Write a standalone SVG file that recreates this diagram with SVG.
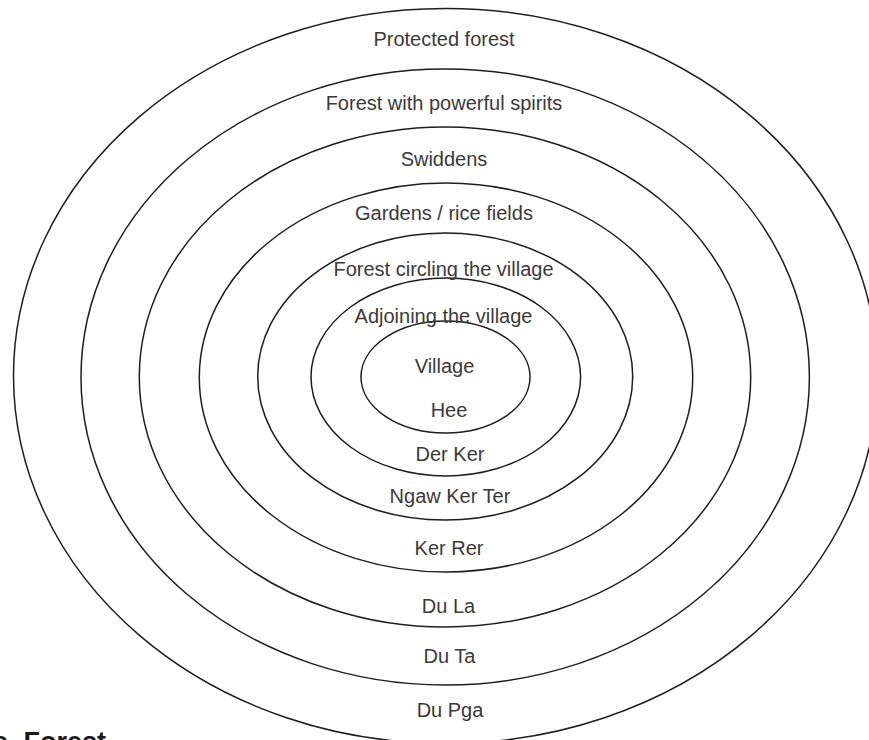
<svg xmlns="http://www.w3.org/2000/svg" width="869" height="740" viewBox="0 0 869 740">
<style>
.ring{fill:none;stroke:#1e1e1e;stroke-width:1.5}
.lbl{font-family:"Liberation Sans",Arial,sans-serif;font-size:20px;fill:#3a3a3a;text-anchor:middle}
.title{font-family:"Liberation Sans",Arial,sans-serif;font-size:27px;font-weight:bold;fill:#1a1a1a}
</style>
<rect width="869" height="740" fill="#fff"/>
<g id="rings">
<g id="ring-protected-forest"><ellipse class="ring" cx="445.5" cy="376" rx="432" ry="367.5"/></g>
<g id="ring-powerful-spirits"><ellipse class="ring" cx="445.2" cy="377" rx="364.2" ry="308"/></g>
<g id="ring-swiddens"><ellipse class="ring" cx="445" cy="377" rx="305.7" ry="250"/></g>
<g id="ring-gardens"><ellipse class="ring" cx="446" cy="377.5" rx="246.7" ry="194.5"/></g>
<g id="ring-forest-circling"><ellipse class="ring" cx="445.2" cy="376.5" rx="187.5" ry="143.5"/></g>
<g id="ring-adjoining"><ellipse class="ring" cx="445.8" cy="377" rx="134.8" ry="99"/></g>
<g id="ring-village"><ellipse class="ring" cx="445.5" cy="377" rx="84.5" ry="56"/></g>
</g>
<g id="labels">
<text class="lbl" x="444" y="46">Protected forest</text>
<text class="lbl" x="444" y="110">Forest with powerful spirits</text>
<text class="lbl" x="444" y="166">Swiddens</text>
<text class="lbl" x="444" y="220">Gardens / rice fields</text>
<text class="lbl" x="443.5" y="276">Forest circling the village</text>
<text class="lbl" x="443.5" y="323">Adjoining the village</text>
<text class="lbl" x="444.5" y="373">Village</text>
<text class="lbl" x="449" y="417">Hee</text>
<text class="lbl" x="450" y="461">Der Ker</text>
<text class="lbl" x="450" y="503">Ngaw Ker Ter</text>
<text class="lbl" x="449" y="555">Ker Rer</text>
<text class="lbl" x="448.5" y="613">Du La</text>
<text class="lbl" x="449.5" y="663">Du Ta</text>
<text class="lbl" x="450" y="717">Du Pga</text>
</g>
<text class="title" x="-7" y="751" word-spacing="8">e Forest</text>
</svg>
